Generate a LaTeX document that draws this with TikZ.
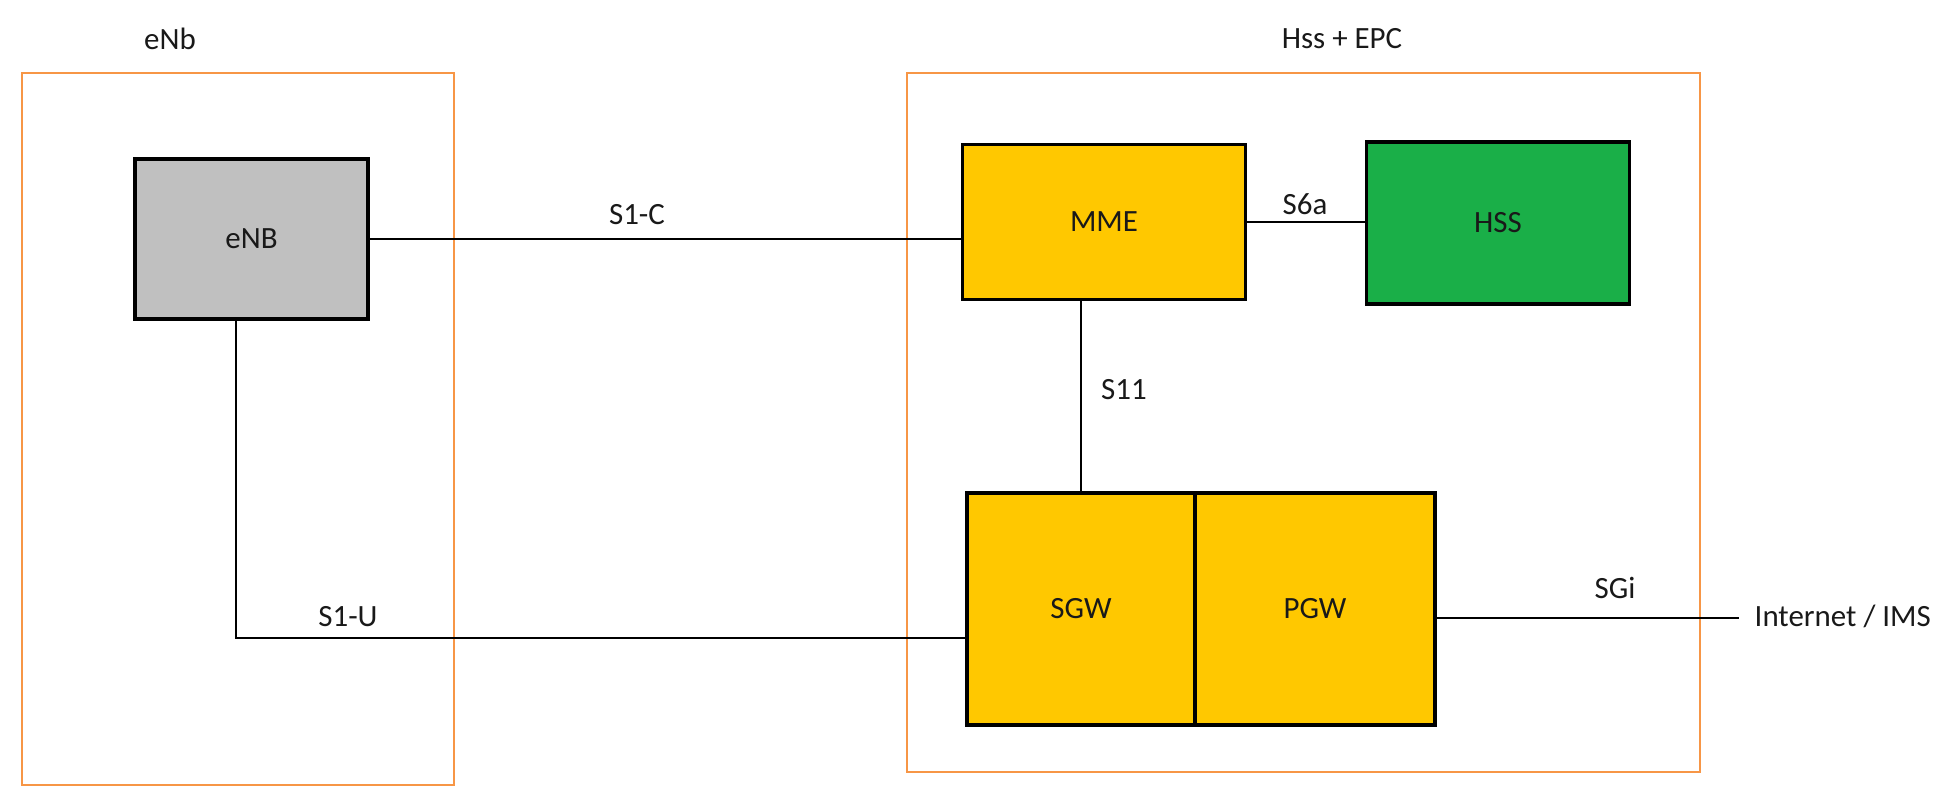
\documentclass[tikz,border=0pt]{standalone}
\usepackage{fontspec}
\setmainfont{Carlito}
\definecolor{framecol}{RGB}{247,150,70}
\definecolor{enbgray}{RGB}{192,192,192}
\definecolor{epcyellow}{RGB}{255,200,0}
\definecolor{hssgreen}{RGB}{26,175,72}

\begin{document}
\begin{tikzpicture}[x=0.1mm, y=-0.1mm,
    every node/.style={font=\fontsize{8.8}{10}\selectfont, text=black!90},
    area/.style={draw=framecol, line width=0.6pt, inner sep=0pt},
    box/.style={draw=black, line width=0.9pt, inner sep=0pt},
    link/.style={draw=black, line width=0.7pt},
    lbl/.style={inner sep=0pt}]
    \useasboundingbox (0,0) rectangle (1959,804);

    % areas
    \node[area, minimum width=4.32cm, minimum height=7.12cm] (enbarea) at (238,429) {};
    \node[area, minimum width=7.93cm, minimum height=6.99cm] (epcarea) at (1303.5,422.5) {};
    \node[lbl] (enbtitle) at (170,39) {eNb};
    \node[lbl] (epctitle) at (1342,39) {Hss + EPC};

    % network elements
    \node[box, fill=enbgray, minimum width=2.33cm, minimum height=1.60cm] (enb) at (251.5,239) {eNB};
    \node[box, fill=epcyellow, minimum width=2.83cm, minimum height=1.55cm] (mme) at (1104,222) {MME};
    \node[box, fill=hssgreen, minimum width=2.63cm, minimum height=1.62cm] (hss) at (1498,223) {HSS};
    \node[box, fill=epcyellow, minimum width=2.28cm, minimum height=2.32cm] (sgw) at (1081,609) {SGW};
    \node[box, fill=epcyellow, minimum width=2.40cm, minimum height=2.32cm] (pgw) at (1315,609) {PGW};
    \node[lbl, anchor=west] (net) at (1754,616) {Internet / IMS};

    % interfaces
    \coordinate (bend) at (236,638);
    \coordinate (netend) at (1739,618);
    \draw[link] (enb.east) -- (enb.east -| mme.west);
    \draw[link] (mme.east) -- (mme.east -| hss.west);
    \draw[link] (sgw.north) -- (sgw.north |- mme.south);
    \draw[link] (enb.south -| bend) -- (bend) -- (bend -| sgw.west);
    \draw[link] (netend -| pgw.east) -- (netend);

    \node[lbl] (s1c) at (637,215) {S1-C};
    \node[lbl] (s6a) at (1305,204) {S6a};
    \node[lbl] (s11) at (1124,390) {S11};
    \node[lbl] (s1u) at (348,617) {S1-U};
    \node[lbl] (sgi) at (1615,588) {SGi};
\end{tikzpicture}
\end{document}
